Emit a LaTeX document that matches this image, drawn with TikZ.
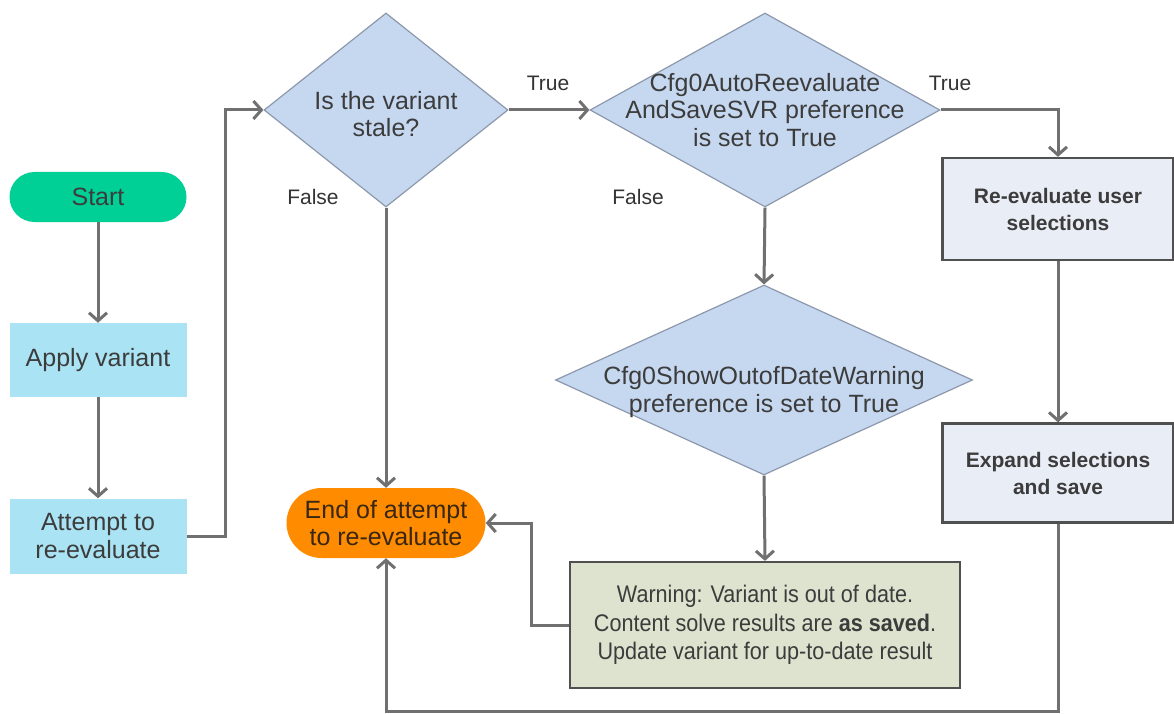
\documentclass[tikz,border=0pt]{standalone}
\usepackage{fontspec}
\setmainfont{Liberation Sans}
\usetikzlibrary{shapes.geometric,arrows.meta}

\definecolor{txtgray}{RGB}{60,60,60}
\definecolor{linegray}{RGB}{112,112,112}
\definecolor{startgreen}{RGB}{0,208,150}
\definecolor{stepcyan}{RGB}{170,227,243}
\definecolor{diablue}{RGB}{198,216,240}
\definecolor{diaedge}{RGB}{140,152,172}
\definecolor{actfill}{RGB}{233,237,245}
\definecolor{endorange}{RGB}{255,140,0}
\definecolor{warnfill}{RGB}{221,227,206}

\tikzset{
  flow/.style={draw=linegray, line width=3, -{Straight Barb[length=8pt,width=18pt]}},
  bigtext/.style={font=\fontsize{25}{27.5}\selectfont, text=txtgray, align=center},
  pillbox/.style={bigtext, rounded corners=#1, inner sep=0},
  stepbox/.style={bigtext, fill=stepcyan, minimum width=177, inner sep=0},
  decision/.style={diamond, draw=diaedge, fill=diablue, line width=1.2, inner sep=0},
  actbox/.style={font=\bfseries\fontsize{21}{27}\selectfont, text=txtgray, align=center,
    draw=txtgray!90, line width=2.2, fill=actfill, minimum width=231, inner sep=0},
  flowlabel/.style={font=\fontsize{21}{24}\selectfont, text=txtgray!85!black}
}

\begin{document}
\begin{tikzpicture}[x=1pt,y=-1pt]
  \useasboundingbox[fill=white] (0,0) rectangle (1174,714);

  % left column
  \node[pillbox=25, fill=startgreen, minimum width=177, minimum height=50] (start) at (98,197) {Start};
  \node[stepbox, minimum height=74] (apply) at (98,360) {Apply variant};
  \node[stepbox, minimum height=75] (attempt) at (98,536) {Attempt to\\re-evaluate};

  % decisions
  \node[decision, minimum width=244, minimum height=194] (stale) at (386,110) {};
  \node[bigtext] (staletxt) at (386,114) {Is the variant\\stale?};
  \node[decision, minimum width=350, minimum height=194] (autosave) at (765,110) {};
  \node[bigtext] (autosavetxt) at (765,110) {Cfg0AutoReevaluate\\AndSaveSVR preference\\is set to True};
  \node[decision, minimum width=417, minimum height=190] (showwarn) at (764,380) {};
  \node[bigtext] (showwarntxt) at (764,392) {Cfg0ShowOutofDateWarning\\preference is set to True};

  % right column
  \node[actbox, minimum height=102] (reeval) at (1058,209) {Re-evaluate user\\selections};
  \node[actbox, minimum height=99] (expand) at (1058,473) {Expand selections\\and save};

  % end and warning
  \node[pillbox=35, fill=endorange, minimum width=199, minimum height=70, text=black!70!brown] (finish) at (386,523) {End of attempt\\to re-evaluate};
  \node[draw=txtgray!90, line width=2.2, fill=warnfill, minimum width=390, minimum height=126,
    font=\fontsize{24}{28.5}\selectfont\addfontfeature{FakeStretch=0.9}, text=txtgray, align=center] (warn) at (765,625)
    {Warning: Variant is out of date.\\Content solve results are \textbf{as saved}.\\Update variant for up-to-date result};

  % labels
  \node[flowlabel] (true1) at (548,83) {True};
  \node[flowlabel] (true2) at (950,83) {True};
  \node[flowlabel] (false1) at (313,197) {False};
  \node[flowlabel] (false2) at (638,197) {False};

  % connectors
  \path[flow] (start) -- (apply);
  \path[flow] (apply) -- (attempt);
  \path[flow] (attempt.east) -- ++(39,0) |- (stale.west);
  \path[flow] (stale.east) -- (autosave.west);
  \path[flow] (stale.south) -- (finish.north);
  \path[flow] (autosave.east) -| (reeval.north);
  \path[flow] (autosave.south) -- (showwarn.north);
  \path[flow] (showwarn.south) -- (warn.north);
  \path[flow] (reeval.south) -- (expand.north);
  \path[flow] (warn.west) -- ++(-37,0) |- (finish.east);
  \path[flow] (expand.south) -- ++(0,188) -| (finish.south);
\end{tikzpicture}
\end{document}
